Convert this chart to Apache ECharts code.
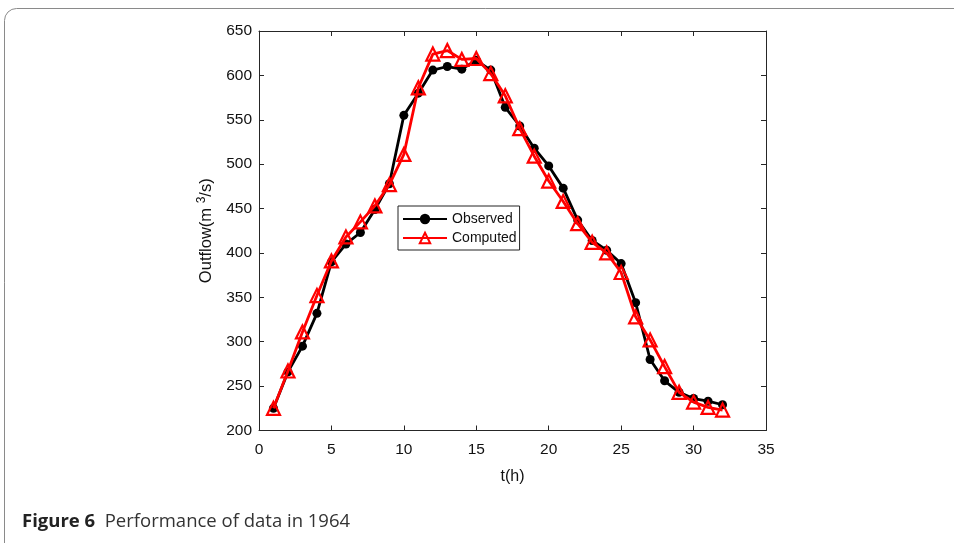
<!DOCTYPE html>
<html><head><meta charset="utf-8">
<script src="https://cdn.jsdelivr.net/npm/echarts@6/dist/echarts.min.js"></script>
<style>html,body{margin:0;padding:0;background:#fff}#c{width:954px;height:543px}</style>
</head><body><div id="c"></div>
<script>
var hours = [1,2,3,4,5,6,7,8,9,10,11,12,13,14,15,16,17,18,19,20,21,22,23,24,25,26,27,28,29,30,31,32];
var observed = [225,266,295,332,390,410,423,449,478,555,580,606,610,607,617,606,564,543,518,498,473,437,414,403,388,344,280,256,243,236,233,229];
var computed = [225,267,311,352,391,418,435,453,477,511,586,624,628,618,619,602,577,540,509,481,458,433,412,400,378,328,302,272,243,232,226,223];
var xTicks = [0,5,10,15,20,25,30,35];
var yTicks = [200,250,300,350,400,450,500,550,600,650];

var pair = function(ys){ return hours.map(function(h,i){ return [h, ys[i]]; }); };
var axisCol = '#262626';
var font = 'Liberation Sans, Arial, Helvetica, sans-serif';
var chart = echarts.init(document.getElementById('c'));
chart.setOption({
  animation: false,
  graphic: [
    {type:'rect', shape:{x:4.5,y:8.5,width:1100,height:700,r:[12,0,0,0]}, style:{fill:'none',stroke:'#8a8a8a',lineWidth:1}, silent:true},
    {type:'text', left:22, top:512, style:{rich:{b:{fontFamily:'Open Sans, Noto Sans, sans-serif',fontWeight:'bold',fontSize:18.5,fill:'#222'},n:{fontFamily:'Open Sans, Noto Sans, sans-serif',fontSize:18.5,fill:'#333'}}, text:'{b|Figure 6}{n|  Performance of data in 1964}'}}
  ],
  grid: {left:259, right:188, top:31, bottom:112.5},
  legend: {
    orient:'vertical', left:398, top:206, itemWidth:44, itemHeight:13, itemGap:5,
    padding:[6,3,5,4], borderColor:'#222', borderWidth:1, backgroundColor:'#fff',
    textStyle:{fontFamily:font,fontSize:14,color:'#111'},
    data:['Observed','Computed']
  },
  xAxis: [
    {type:'value', min:0, max:35, interval:5, name:'t(h)', nameLocation:'middle', nameGap:38,
     nameTextStyle:{fontFamily:font,fontSize:16,color:'#111'},
     axisLine:{onZero:false,lineStyle:{color:axisCol,width:1}}, axisTick:{inside:true,length:5,lineStyle:{color:axisCol}},
     axisLabel:{fontFamily:font,fontSize:15.5,color:'#111',margin:11}, splitLine:{show:false}},
    {type:'value', position:'top', min:0, max:35, interval:5,
     axisLine:{onZero:false,lineStyle:{color:axisCol,width:1}}, axisTick:{inside:true,length:5,lineStyle:{color:axisCol}},
     axisLabel:{show:false}, splitLine:{show:false}}
  ],
  yAxis: [
    {type:'value', min:200, max:650, interval:50, name:'Outflow(m {s|3}/s)', nameLocation:'middle', nameGap:36,
     nameTextStyle:{fontFamily:font,fontSize:16.5,color:'#111',rich:{s:{fontFamily:font,fontSize:12,color:'#111',verticalAlign:'top',padding:[0,0,10,0]}}},
     axisLine:{onZero:false,lineStyle:{color:axisCol,width:1}}, axisTick:{inside:true,length:5,lineStyle:{color:axisCol}},
     axisLabel:{fontFamily:font,fontSize:15.5,color:'#111',margin:7}, splitLine:{show:false}},
    {type:'value', position:'right', min:200, max:650, interval:50,
     axisLine:{onZero:false,lineStyle:{color:axisCol,width:1}}, axisTick:{inside:true,length:5,lineStyle:{color:axisCol}},
     axisLabel:{show:false}, splitLine:{show:false}}
  ],
  series: [
    {name:'Observed', type:'line', data:pair(observed), symbol:'circle', symbolSize:9,
     lineStyle:{color:'#000',width:2.8}, itemStyle:{color:'#000'}, z:2},
    {name:'Computed', type:'line', data:pair(computed), symbol:'triangle', symbolSize:13,
     lineStyle:{color:'#ff0000',width:2.8}, itemStyle:{color:'rgba(255,255,255,0)',borderColor:'#ff0000',borderWidth:2.2}, z:3}
  ]
});
</script></body></html>
